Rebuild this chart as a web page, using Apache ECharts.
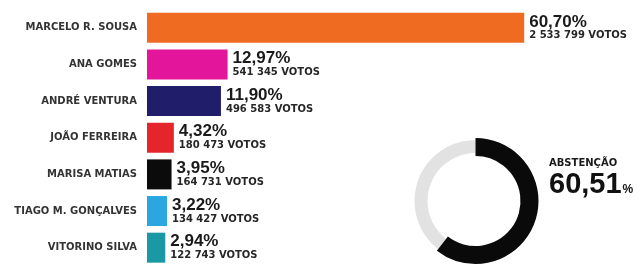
<!DOCTYPE html>
<html>
<head>
<meta charset="utf-8">
<script src="https://cdn.jsdelivr.net/npm/echarts@6/dist/echarts.min.js"></script>
<style>
  html, body { margin: 0; padding: 0; background: #fff; }
  #chart { width: 640px; height: 266px; }
</style>
</head>
<body>
<div id="chart"></div>
<script>
// dados da eleição
var candidatos = ['MARCELO R. SOUSA', 'ANA GOMES', 'ANDRÉ VENTURA', 'JOÃO FERREIRA', 'MARISA MATIAS', 'TIAGO M. GONÇALVES', 'VITORINO SILVA']
var percentagens = [60.70, 12.97, 11.90, 4.32, 3.95, 3.22, 2.94]
var votos = [2533799, 541345, 496583, 180473, 164731, 134427, 122743]
var cores = ['#f06b22', '#e3159a', '#201d6b', '#e4262c', '#0b0b0b', '#2aa6e0', '#1a98a3']
var abstencao = 60.51

var fonteLarga = "'DejaVu Sans', sans-serif"
var fonte = "'Liberation Sans', Arial, sans-serif"

function fmtPct (v) {
  return v.toFixed(2).replace('.', ',')
}
function fmtVotos (v) {
  return String(v).replace(/\B(?=(\d{3})+(?!\d))/g, ' ')
}

var chart = echarts.init(document.getElementById('chart'))

chart.setOption({
  animation: false,
  grid: { left: 147, top: 9.5, width: 435, height: 259 },
  xAxis: {
    type: 'value', min: 0, max: 70, show: false
  },
  yAxis: {
    type: 'category',
    inverse: true,
    data: candidatos,
    axisLine: { show: false },
    axisTick: { show: false },
    axisLabel: {
      margin: 10,
      color: '#333',
      fontSize: 10,
      fontWeight: 'bold',
      fontFamily: fonteLarga
    }
  },
  title: {
    left: 544,
    top: 152,
    text: '{a|ABSTENÇÃO}\n{b|' + fmtPct(abstencao) + '}{c|%}',
    textStyle: {
      rich: {
        a: { fontSize: 10, fontWeight: 'bold', color: '#1a1a1a', fontFamily: fonteLarga, lineHeight: 13 },
        b: { fontSize: 29, fontWeight: 'bold', color: '#111', fontFamily: fonte, lineHeight: 29 },
        c: { fontSize: 12, fontWeight: 'bold', color: '#111', fontFamily: fonte, padding: [10, 0, 0, 1] }
      }
    }
  },
  series: [
    {
      type: 'bar',
      barWidth: 30,
      silent: true,
      data: percentagens.map(function (v, i) {
        return { value: v, itemStyle: { color: cores[i] } }
      }),
      label: {
        show: true,
        position: 'right',
        distance: 5,
        formatter: function (p) {
          return '{p|' + fmtPct(p.value) + '%}\n{v|' + fmtVotos(votos[p.dataIndex]) + ' VOTOS}'
        },
        rich: {
          p: { fontSize: 17, fontWeight: 'bold', color: '#1a1a1a', fontFamily: fonte, lineHeight: 16 },
          v: { fontSize: 10, fontWeight: 'bold', color: '#262626', fontFamily: fonteLarga, lineHeight: 12 }
        }
      }
    },
    {
      type: 'pie',
      center: [475.5, 201],
      radius: [48, 61],
      startAngle: 90,
      silent: true,
      label: { show: false },
      labelLine: { show: false },
      itemStyle: { borderWidth: 0 },
      data: [
        { value: abstencao, itemStyle: { color: 'rgba(0,0,0,0)' } },
        { value: 100 - abstencao, itemStyle: { color: '#e2e2e2' } }
      ]
    },
    {
      type: 'pie',
      center: [475.5, 201],
      radius: [45, 63],
      startAngle: 90,
      silent: true,
      label: { show: false },
      labelLine: { show: false },
      itemStyle: { borderWidth: 0 },
      data: [
        { value: abstencao, itemStyle: { color: '#0a0a0a' } },
        { value: 100 - abstencao, itemStyle: { color: 'rgba(0,0,0,0)' } }
      ]
    }
  ]
})
</script>
</body>
</html>
